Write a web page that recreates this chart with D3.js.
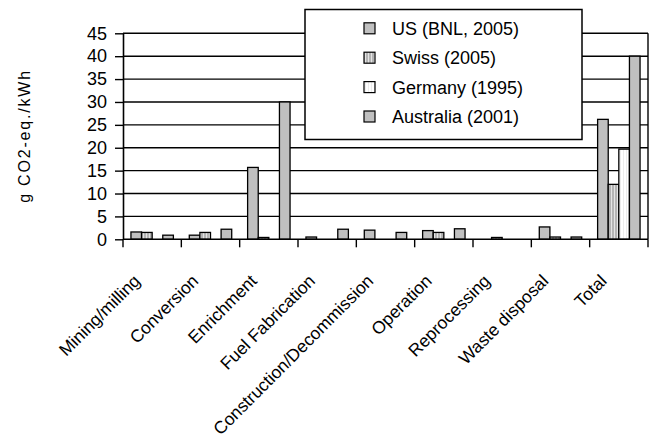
<!DOCTYPE html>
<html>
<head>
<meta charset="utf-8">
<script src="https://cdn.jsdelivr.net/npm/d3@7"></script>
<style>
  html, body { margin: 0; padding: 0; background: #fff; }
  svg { display: block; font-family: Arial, "Liberation Sans", sans-serif; }
</style>
</head>
<body>
<svg id="chart" width="650" height="442"></svg>
<script>
// Life-cycle greenhouse gas emissions of nuclear power, by fuel-cycle stage
const categories = ["Mining/milling", "Conversion", "Enrichment", "Fuel Fabrication",
  "Construction/Decommission", "Operation", "Reprocessing", "Waste disposal", "Total"];
const seriesNames = ["US (BNL, 2005)", "Swiss (2005)", "Germany (1995)", "Australia (2001)"];
const usValues        = [1.6, 0.9, 15.7, 0.5, 2.0, 1.9, null, 2.7, 26.2];
const swissValues     = [1.5, 1.5, 0.4, null, null, 1.5, 0.4, 0.5, 12.0];
const germanyValues   = [null, null, null, null, null, null, null, null, 19.7];
const australiaValues = [0.9, 2.2, 30.0, 2.2, 1.5, 2.3, null, 0.5, 40.0];
const yTicks = [0, 5, 10, 15, 20, 25, 30, 35, 40, 45];
const yTitle = "g CO2-eq./kWh";

const seriesValues = [usValues, swissValues, germanyValues, australiaValues];

const svg = d3.select("#chart");
const plotLeft = 123, plotRight = 648, plotTop = 33.3, plotBottom = 239.3;

// Fill patterns: vertical stripes for Swiss, faint stripes for Germany
const defs = svg.append("defs");
const swissPat = defs.append("pattern").attr("id", "swissFill")
  .attr("patternUnits", "userSpaceOnUse").attr("width", 3).attr("height", 4);
swissPat.append("rect").attr("width", 3).attr("height", 4).attr("fill", "#b4b4b4");
swissPat.append("rect").attr("x", 2).attr("width", 1).attr("height", 4).attr("fill", "#e4e4e4");
const gerPat = defs.append("pattern").attr("id", "germanyFill")
  .attr("patternUnits", "userSpaceOnUse").attr("width", 3).attr("height", 4);
gerPat.append("rect").attr("width", 3).attr("height", 4).attr("fill", "#ffffff");
gerPat.append("rect").attr("x", 2).attr("width", 1).attr("height", 4).attr("fill", "#ececec");

const fills = ["#c0c0c0", "url(#swissFill)", "url(#germanyFill)", "#c0c0c0"];

const x0 = d3.scaleBand().domain(categories).range([plotLeft, plotRight]).paddingInner(0).paddingOuter(0);
const x1 = d3.scaleBand().domain(d3.range(seriesNames.length))
  .range([0, x0.bandwidth()]).paddingInner(0).paddingOuter(0.75);
const y = d3.scaleLinear().domain([0, 45]).range([plotBottom, plotTop]);

// Horizontal gridlines
svg.append("g").selectAll("line").data(yTicks.filter(d => d > 0)).join("line")
  .attr("x1", plotLeft).attr("x2", plotRight)
  .attr("y1", d => y(d)).attr("y2", d => y(d))
  .attr("stroke", "#000").attr("stroke-width", 1.4);

// Right border of plot area
svg.append("line").attr("x1", plotRight).attr("x2", plotRight).attr("y1", plotTop).attr("y2", plotBottom)
  .attr("stroke", "#000").attr("stroke-width", 1.4);

// Bars
const rows = [];
categories.forEach((c, ci) => {
  seriesValues.forEach((vals, si) => {
    if (vals[ci] != null) rows.push({ c, si, v: vals[ci] });
  });
});
svg.append("g").selectAll("rect").data(rows).join("rect")
  .attr("x", d => x0(d.c) + x1(d.si))
  .attr("y", d => y(d.v))
  .attr("width", x1.bandwidth())
  .attr("height", d => y(0) - y(d.v))
  .attr("fill", d => fills[d.si])
  .attr("stroke", "#000").attr("stroke-width", 1.3);

// Y axis
const yAxis = d3.axisLeft(y).tickValues(yTicks).tickSize(8).tickSizeOuter(0).tickPadding(8);
const gy = svg.append("g").attr("transform", `translate(${plotLeft},0)`).call(yAxis);
gy.select(".domain").attr("stroke", "#000").attr("stroke-width", 1.6);
gy.selectAll(".tick line").attr("stroke", "#000").attr("stroke-width", 1.4);
gy.selectAll(".tick text").attr("font-size", 18).attr("fill", "#000")
  .attr("font-family", "Arial, 'Liberation Sans', sans-serif");

// X axis: ticks between categories
const boundaries = d3.range(categories.length + 1).map(i => plotLeft + i * x0.step());
svg.append("line").attr("x1", plotLeft).attr("x2", plotRight).attr("y1", plotBottom).attr("y2", plotBottom)
  .attr("stroke", "#000").attr("stroke-width", 1.6);
svg.append("g").selectAll("line").data(boundaries).join("line")
  .attr("x1", d => d).attr("x2", d => d)
  .attr("y1", plotBottom).attr("y2", plotBottom + 8)
  .attr("stroke", "#000").attr("stroke-width", 1.4);

svg.append("g").selectAll("text").data(categories).join("text")
  .attr("transform", d => `translate(${x0(d) + x0.bandwidth() / 2 - 11},${282}) rotate(-45)`)
  .attr("text-anchor", "end")
  .attr("font-size", 17.5)
  .attr("fill", "#000")
  .text(d => d);

// Y axis title
svg.append("text")
  .attr("transform", "translate(30,136) rotate(-90)")
  .attr("text-anchor", "middle")
  .attr("font-size", 16)
  .attr("letter-spacing", 1.8)
  .attr("fill", "#000")
  .text(yTitle);

// Legend
const lg = svg.append("g");
lg.append("rect").attr("x", 305).attr("y", 9.5).attr("width", 277).attr("height", 130)
  .attr("fill", "#fff").attr("stroke", "#000").attr("stroke-width", 1.5);
const items = lg.selectAll("g.item").data(seriesNames).join("g").attr("class", "item")
  .attr("transform", (d, i) => `translate(0,${28.3 + i * 29.4})`);
items.append("rect").attr("x", 364).attr("y", -5.5).attr("width", 11).attr("height", 11)
  .attr("fill", (d, i) => fills[i]).attr("stroke", "#000").attr("stroke-width", 1.2);
items.append("text").attr("x", 392).attr("y", 6.5)
  .attr("font-size", 18).attr("fill", "#000")
  .text(d => d);
</script>
</body>
</html>
